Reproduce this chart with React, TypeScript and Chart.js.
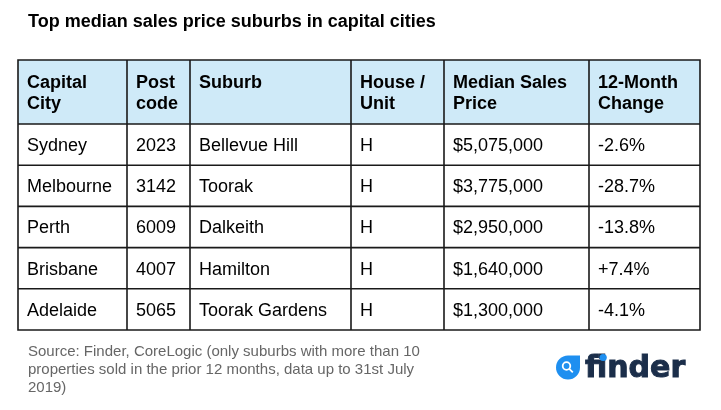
import React, { useEffect, useRef } from "react";
import { Chart, registerables } from "chart.js";

Chart.register(...registerables);

// ---- Data ----
const chartTitle = "Top median sales price suburbs in capital cities";
const headerLabels: string[][] = [
  ["Capital", "City"],
  ["Post", "code"],
  ["Suburb"],
  ["House /", "Unit"],
  ["Median Sales", "Price"],
  ["12-Month", "Change"],
];
const capitalCities = ["Sydney", "Melbourne", "Perth", "Brisbane", "Adelaide"];
const postcodes = ["2023", "3142", "6009", "4007", "5065"];
const suburbs = ["Bellevue Hill", "Toorak", "Dalkeith", "Hamilton", "Toorak Gardens"];
const houseOrUnit = ["H", "H", "H", "H", "H"];
const medianSalesPrice = [5075000, 3775000, 2950000, 1640000, 1300000];
const twelveMonthChange = [-2.6, -28.7, -13.8, 7.4, -4.1];
const sourceLines = [
  "Source: Finder, CoreLogic (only suburbs with more than 10",
  "properties sold in the prior 12 months, data up to 31st July",
  "2019)",
];
const brandName = "finder";

// ---- Layout (relative column widths, header height in row units) ----
const columnWidths = [109, 63, 161, 93, 145, 111];
const headerSpan = 1.5526;

const fmtPrice = (v: number) => "$" + v.toLocaleString("en-US");
const fmtChange = (v: number) => (v > 0 ? "+" : v < 0 ? "-" : "") + Math.abs(v).toFixed(1) + "%";

const FONT = '"Liberation Sans", Arial, Helvetica, sans-serif';

function buildRows(): string[][] {
  return capitalCities.map((c, i) => [
    c,
    postcodes[i],
    suburbs[i],
    houseOrUnit[i],
    fmtPrice(medianSalesPrice[i]),
    fmtChange(twelveMonthChange[i]),
  ]);
}

const columnEdges: number[] = columnWidths.reduce(
  (acc: number[], w) => {
    acc.push(acc[acc.length - 1] + w);
    return acc;
  },
  [0]
);

const tablePlugin = {
  id: "tablePlugin",
  afterDraw(chart: any) {
    const { ctx } = chart;
    const x = chart.scales.x;
    const y = chart.scales.y;
    const rows = buildRows();
    const px = (v: number) => x.getPixelForValue(v);
    const py = (v: number) => y.getPixelForValue(v);
    ctx.save();

    // title
    ctx.fillStyle = "#000";
    ctx.font = `bold 18px ${FONT}`;
    ctx.textAlign = "left";
    ctx.textBaseline = "alphabetic";
    ctx.fillText(chartTitle, 28, 27);

    // header background
    const left = px(columnEdges[0]);
    const right = px(columnEdges[columnEdges.length - 1]);
    ctx.fillStyle = "#cfeaf8";
    ctx.fillRect(left, py(-headerSpan), right - left, py(0) - py(-headerSpan));
    ctx.fillStyle = "#ffffff";
    ctx.fillRect(left, py(0), right - left, py(rows.length) - py(0));

    // grid lines
    ctx.strokeStyle = "#1a1a1a";
    ctx.lineWidth = 1.6;
    const hLines = [-headerSpan];
    for (let r = 0; r <= rows.length; r++) hLines.push(r);
    ctx.beginPath();
    hLines.forEach((v) => {
      ctx.moveTo(left - 0.8, py(v));
      ctx.lineTo(right + 0.8, py(v));
    });
    columnEdges.forEach((e) => {
      ctx.moveTo(px(e), py(-headerSpan));
      ctx.lineTo(px(e), py(rows.length));
    });
    ctx.stroke();

    const pad = 9;
    // header text
    ctx.fillStyle = "#000";
    ctx.font = `bold 18px ${FONT}`;
    const hCenter = (py(-headerSpan) + py(0)) / 2;
    headerLabels.forEach((lines, c) => {
      lines.forEach((t, li) => {
        ctx.fillText(t, px(columnEdges[c]) + pad, hCenter + 6.4 - 10.3 + li * 20.6);
      });
    });

    // body text
    ctx.font = `18px ${FONT}`;
    rows.forEach((row, r) => {
      const cy = (py(r) + py(r + 1)) / 2 + 6.4;
      row.forEach((t, c) => {
        ctx.fillText(t, px(columnEdges[c]) + pad, cy);
      });
    });

    // source
    ctx.fillStyle = "#666";
    ctx.font = `15px ${FONT}`;
    sourceLines.forEach((t, i) => ctx.fillText(t, 28, 356 + i * 18));

    // logo icon
    const cx = 568, cyI = 367.5, r = 12;
    ctx.fillStyle = "#1e8ff0";
    ctx.beginPath();
    ctx.moveTo(cx + r, cyI - r);
    ctx.lineTo(cx + r, cyI);
    ctx.arc(cx, cyI, r, 0, Math.PI * 1.5, false);
    ctx.closePath();
    ctx.fill();
    ctx.strokeStyle = "#fff";
    ctx.lineWidth = 1.8;
    ctx.beginPath();
    ctx.arc(cx - 1.5, cyI - 1.5, 3.8, 0, Math.PI * 2);
    ctx.stroke();
    ctx.beginPath();
    ctx.moveTo(cx + 1.3, cyI + 1.3);
    ctx.lineTo(cx + 4.8, cyI + 4.8);
    ctx.stroke();

    // logo text
    ctx.fillStyle = "#1b2e4a";
    ctx.strokeStyle = "#1b2e4a";
    ctx.lineWidth = 1;
    ctx.font = `bold 30px "DejaVu Sans", sans-serif`;
    ctx.fillText(brandName, 585, 377);
    ctx.strokeText(brandName, 585, 377);
    const fw = ctx.measureText("f").width;
    const iw = ctx.measureText("i").width;
    ctx.fillStyle = "#1e8ff0";
    ctx.beginPath();
    ctx.arc(585 + fw + iw / 2, 377 - 19.5, 3.6, 0, Math.PI * 2);
    ctx.fill();

    ctx.restore();
  },
};

export default function App() {
  const canvasRef = useRef<HTMLCanvasElement | null>(null);

  useEffect(() => {
    document.body.style.margin = "0";
    const canvas = canvasRef.current;
    if (!canvas) return;
    const chart = new Chart(canvas, {
      type: "scatter",
      data: { datasets: [{ data: [] }] },
      options: {
        responsive: false,
        animation: false,
        devicePixelRatio: 1,
        layout: { padding: { left: 18, right: 21, top: 60, bottom: 80 } },
        plugins: { legend: { display: false }, tooltip: { enabled: false }, title: { display: false } },
        scales: {
          x: { type: "linear", display: false, min: columnEdges[0], max: columnEdges[columnEdges.length - 1] },
          y: { type: "linear", display: false, reverse: true, min: -headerSpan, max: capitalCities.length },
        },
      },
      plugins: [tablePlugin],
    });
    return () => chart.destroy();
  }, []);

  return (
    <div style={{ width: 721, height: 410, background: "#fff" }}>
      <canvas ref={canvasRef} width={721} height={410} style={{ display: "block" }} />
    </div>
  );
}
